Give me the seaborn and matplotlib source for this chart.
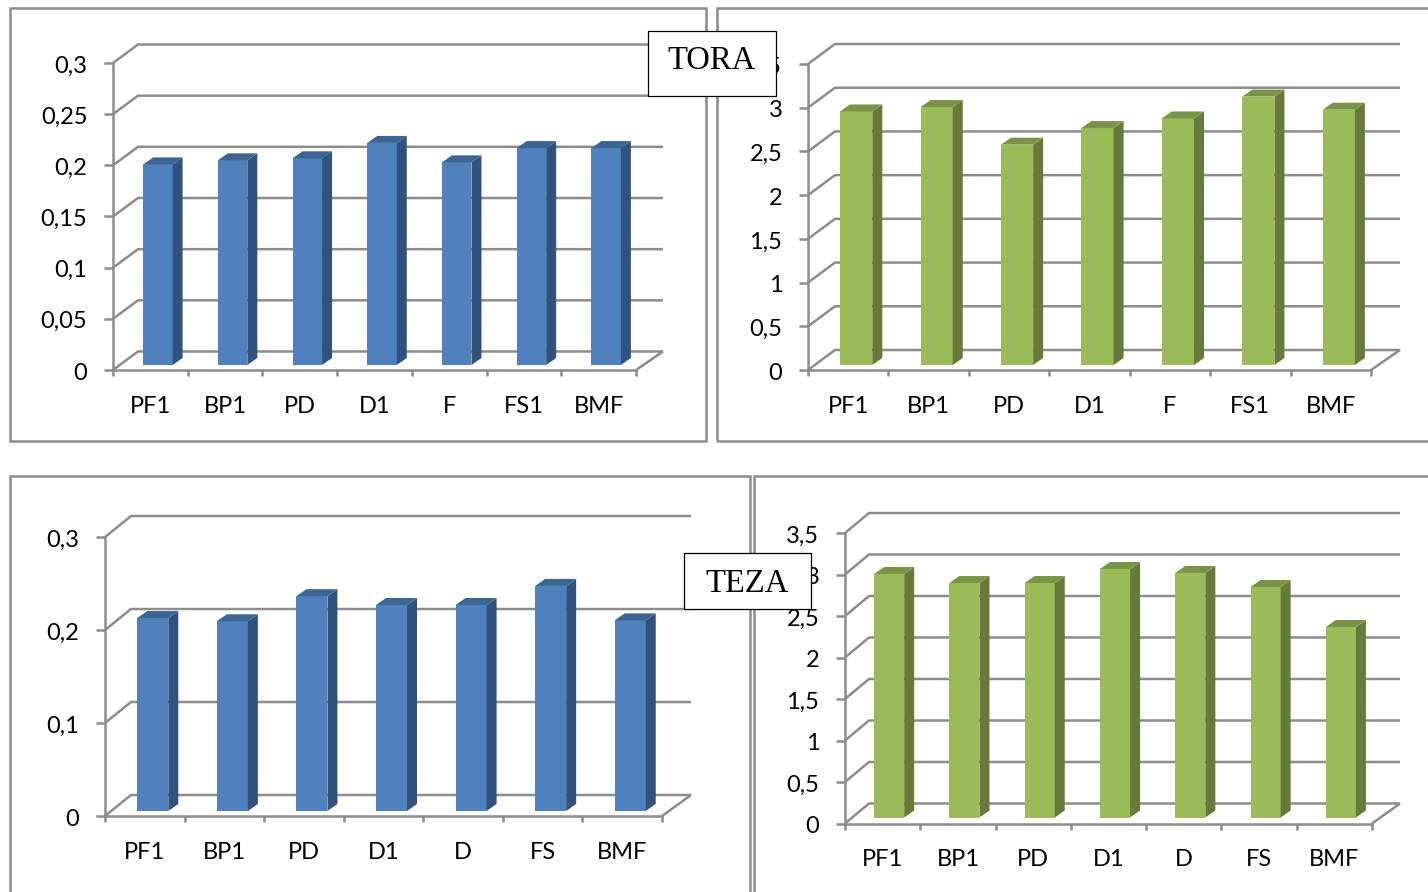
import matplotlib
matplotlib.use("Agg")
import matplotlib.pyplot as plt
import seaborn as sns
from matplotlib.patches import Polygon, Rectangle
from matplotlib.transforms import Affine2D, IdentityTransform

# values
cats_tora = ["PF1", "BP1", "PD", "D1", "F", "FS1", "BMF"]
cats_teza = ["PF1", "BP1", "PD", "D1", "D", "FS", "BMF"]
tora_blue = [0.196, 0.200, 0.202, 0.217, 0.198, 0.212, 0.212]
tora_green = [2.90, 2.95, 2.52, 2.71, 2.82, 3.07, 2.92]
teza_blue = [0.2075, 0.204, 0.231, 0.2215, 0.2215, 0.242, 0.205]
teza_green = [2.934, 2.825, 2.825, 2.994, 2.946, 2.777, 2.295]
ticks_small = [0, 0.05, 0.1, 0.15, 0.2, 0.25, 0.3]
ticks_coarse = [0, 0.1, 0.2, 0.3]
ticks_big = [0, 0.5, 1, 1.5, 2, 2.5, 3, 3.5]

W, H = 1428, 892
GRAY = "#8c8c8c"
LW = 1.8
BLUE = ("#4f81bd", "#30527c", "#3d6594")
GREEN = ("#9bbb59", "#667a39", "#7a9447")

sns.set_style("white")
plt.rcParams["font.family"] = ["Lato", "DejaVu Sans"]

fig = plt.figure(figsize=(W / 100, H / 100), dpi=100)


def label(v):
    return f"{v:g}".replace(".", ",")


def wall_line(ax, pts):
    # pts are in pixels of the saved image, y measured from the bottom
    xs, ys = zip(*pts)
    ax.plot(xs, ys, color=GRAY, lw=LW, transform=IdentityTransform(),
            clip_on=False, zorder=1, solid_capstyle="butt")


def draw_panel(cats, vals, ticks, colors, x0, x1, y0, ytop, depth, shift, width, extra=0, xpad=19):
    ax = fig.add_axes([x0 / W, (H - y0) / H, (x1 - x0) / W, (y0 - ytop) / H])
    ax.patch.set_alpha(0)
    sns.barplot(x=cats, y=vals, color=colors[0], saturation=1, width=width, ax=ax, zorder=3)
    ax.set_xlim(-0.5, len(cats) - 0.5)
    ax.set_ylim(0, ticks[-1])
    sns.despine(ax=ax)
    for s in ["left", "bottom"]:
        ax.spines[s].set_color(GRAY)
        ax.spines[s].set_linewidth(LW)

    # y ticks, and the category labels sit between the x ticks
    ax.set_yticks(ticks, [label(t) for t in ticks])
    ax.tick_params(axis="y", left=True, length=6.5, width=LW, color=GRAY, pad=12, labelsize=17, labelcolor="black")
    ax.set_xticks([i - 0.5 for i in range(len(cats) + 1)], [""] * (len(cats) + 1))
    ax.set_xticks(range(len(cats)), cats, minor=True)
    ax.tick_params(axis="x", which="major", bottom=True, length=4.5, width=LW, color=GRAY)
    ax.tick_params(axis="x", which="minor", bottom=False, length=0, pad=xpad, labelsize=17, labelcolor="black")
    for lab in ax.get_yticklabels():
        lab.set_transform(lab.get_transform() + Affine2D().translate(0, -1))

    # back wall and side wall
    dx, dy = depth
    for t in ticks:
        px0, py = ax.transData.transform((-0.5, t))
        px1, _ = ax.transData.transform((len(cats) - 0.5, t))
        wall_line(ax, [(px0, py), (px0 + dx, py + dy), (px1 + dx + extra, py + dy)])
    px0, py = ax.transData.transform((-0.5, 0))
    px1, _ = ax.transData.transform((len(cats) - 0.5, 0))
    wall_line(ax, [(px1, py), (px1 + dx + extra, py + dy)])

    # front faces moved onto the floor, then side and top faces in pixels
    sx, sy = shift
    moved = ax.transData + Affine2D().translate(sx, sy)
    for bar in ax.patches:
        bar.set_transform(moved)
        bar.set_clip_on(False)
        bar.set_linewidth(0)
        l, b = moved.transform((bar.get_x(), 0))
        r, t = moved.transform((bar.get_x() + bar.get_width(), bar.get_height()))
        side = [(r, b), (r + 10, b + 7), (r + 10, t + 7), (r, t)]
        top = [(l, t), (l + 10, t + 7), (r + 10, t + 7), (r, t)]
        ax.add_patch(Polygon(side, fc=colors[1], ec="none", transform=IdentityTransform(), clip_on=False, zorder=3))
        ax.add_patch(Polygon(top, fc=colors[2], ec="none", transform=IdentityTransform(), clip_on=False, zorder=3))
    return ax


draw_panel(cats_tora, tora_blue, ticks_small, BLUE, 113, 636, 370, 63, (25, 18.5), (7.5, 5), 0.395, extra=2)
draw_panel(cats_tora, tora_green, ticks_big, GREEN, 808, 1371, 370, 64, (27, 20), (8, 5), 0.40, extra=2)
draw_panel(cats_teza, teza_blue, ticks_coarse, BLUE, 105, 662, 816, 537, (26, 21), (8, 5), 0.39, extra=3)
draw_panel(cats_teza, teza_green, ticks_big, GREEN, 845, 1372, 823.5, 533, (24, 20), (6.5, 6), 0.40, extra=4, xpad=18.5)

# chart frames
for x, y, w, h in [(10, 8, 696, 433), (717, 8, 760, 433), (10, 476, 740, 460), (754, 476, 720, 460)]:
    fig.add_artist(Rectangle((x, H - y - h), w, h, fc="none", ec=GRAY, lw=LW,
                             transform=IdentityTransform(), zorder=5))

# text boxes sitting over the charts
for txt, x, y, w, h, cy in [("TORA", 648, 31, 128, 65, 61), ("TEZA", 684, 553, 127, 56, 584)]:
    fig.add_artist(Rectangle((x, H - y - h), w, h, fc="white", ec="black", lw=0.9,
                             transform=IdentityTransform(), zorder=6))
    fig.text((x + w / 2) / W, (H - cy) / H, txt, ha="center", va="center",
             family="Liberation Serif", fontsize=23.5, color="black", zorder=7)

fig.savefig("out.png", dpi=100, facecolor="white")
